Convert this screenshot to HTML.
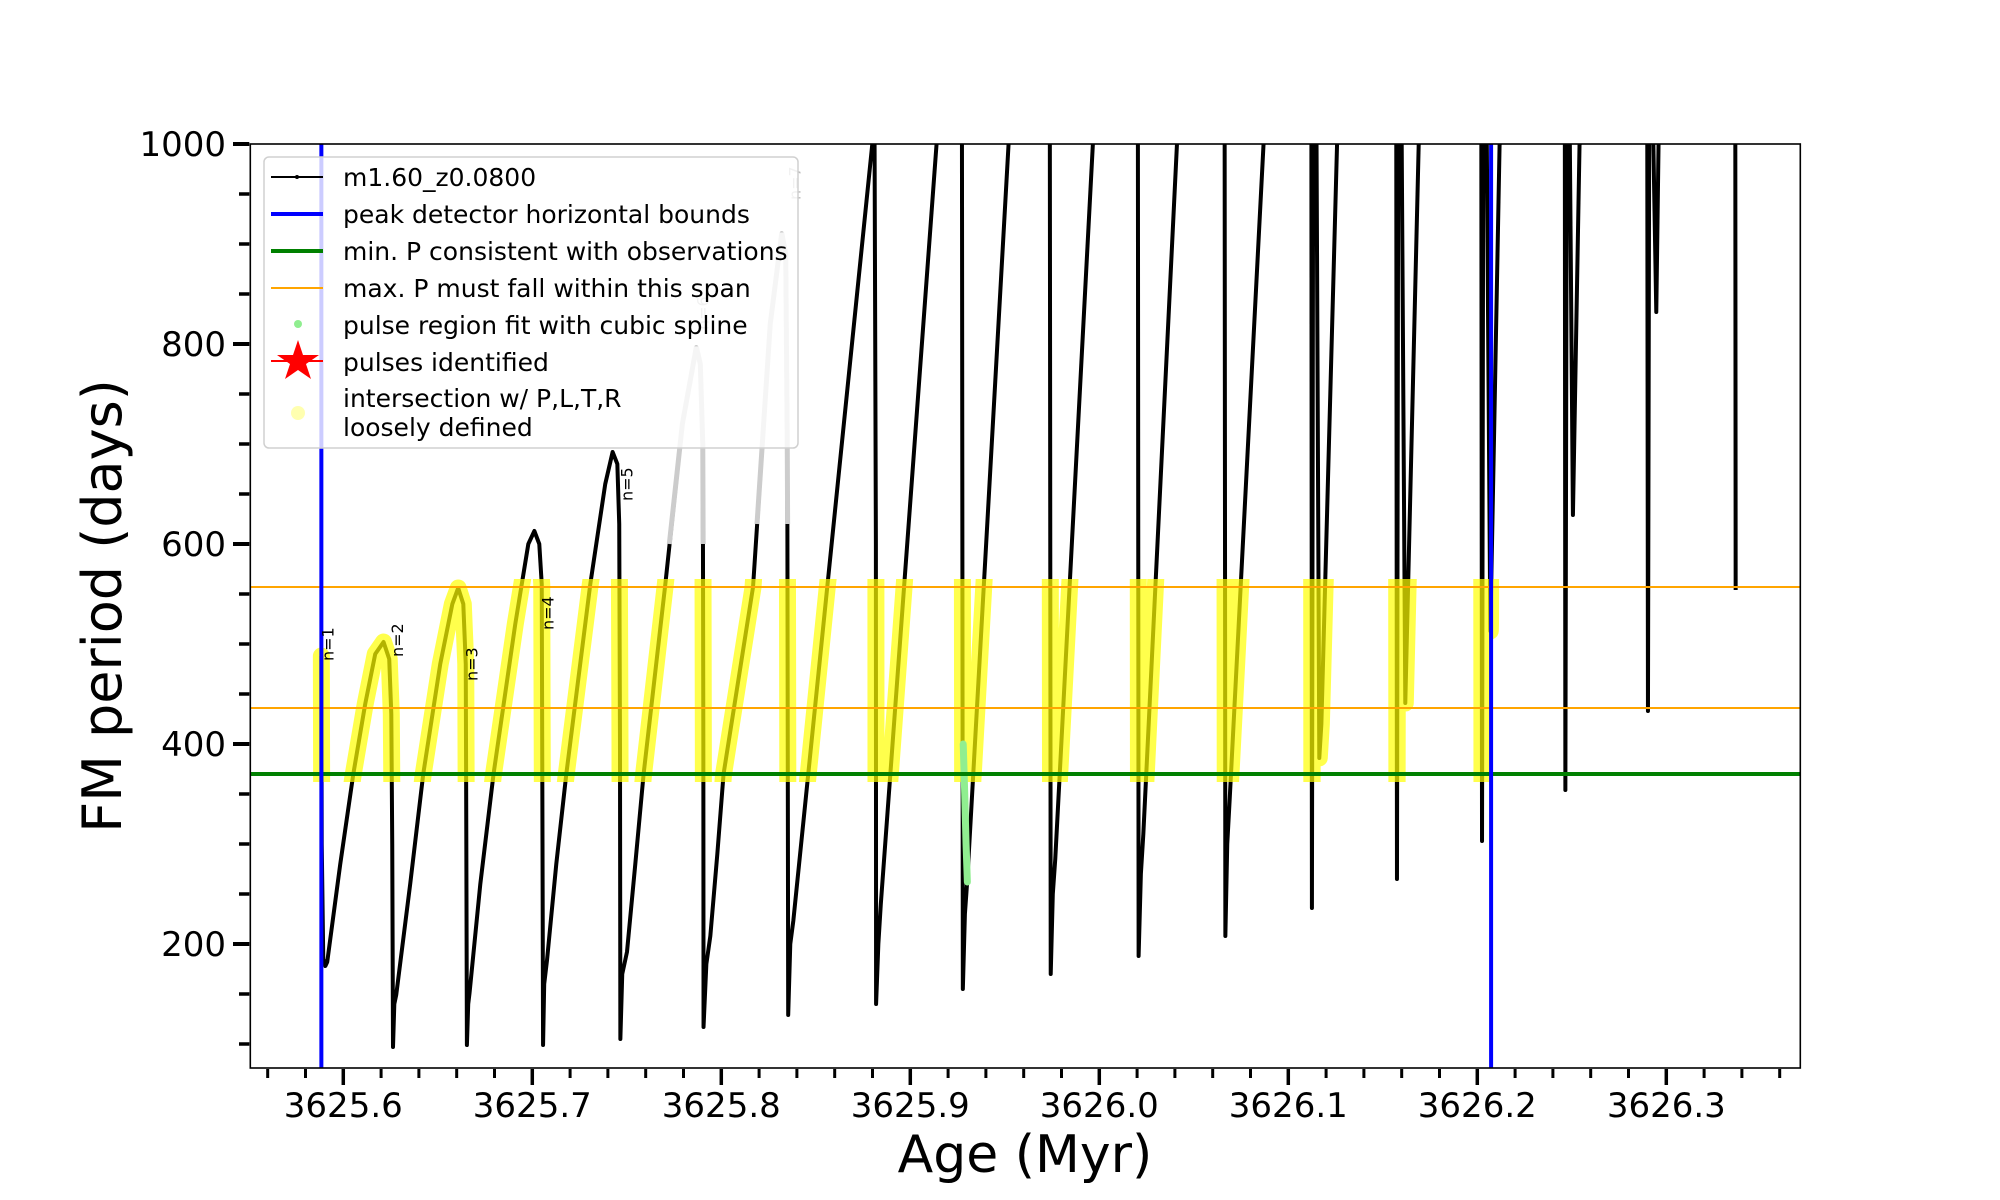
<!DOCTYPE html>
<html><head><meta charset="utf-8"><style>
html,body{margin:0;padding:0;background:#fff;}
svg{display:block;font-family:"DejaVu Sans","Liberation Sans",sans-serif;}
</style></head><body>
<svg id="chart" width="2000" height="1200" viewBox="0 0 2000 1200" xmlns="http://www.w3.org/2000/svg">
<defs>
<clipPath id="plotclip"><rect x="250.3" y="144" width="1550" height="924"/></clipPath>
<clipPath id="bandclip"><rect id="bandrect" x="0" y="0" width="0" height="0"/></clipPath>
</defs>
<rect x="0" y="0" width="2000" height="1200" fill="#fff"/>
<g id="plot" clip-path="url(#plotclip)"></g>
<rect x="250.3" y="144" width="1550" height="924" fill="none" stroke="#000" stroke-width="1.6"/>
<g id="axes"></g>
<text x="1025" y="1172" font-size="52" text-anchor="middle">Age (Myr)</text>
<text transform="translate(121,606) rotate(-90)" font-size="54" text-anchor="middle">FM period (days)</text>
<g id="legend">
<rect x="264" y="157" width="534" height="291" rx="5" fill="#fff" fill-opacity="0.8" stroke="#d0d0d0" stroke-width="1.5"/>
<g><line x1="271" y1="177" x2="323" y2="177" stroke="#000" stroke-width="2"/><circle cx="297" cy="177" r="2" fill="#000"/><text x="343" y="186" font-size="25">m1.60_z0.0800</text></g>
<g><line x1="271" y1="214" x2="323" y2="214" stroke="#0000ff" stroke-width="4"/><text x="343" y="223" font-size="25">peak detector horizontal bounds</text></g>
<g><line x1="271" y1="251" x2="323" y2="251" stroke="#008000" stroke-width="4"/><text x="343" y="260" font-size="25">min. P consistent with observations</text></g>
<g><line x1="271" y1="288" x2="323" y2="288" stroke="#ffa500" stroke-width="2"/><text x="343" y="297" font-size="25">max. P must fall within this span</text></g>
<g><circle cx="298" cy="324" r="4" fill="#90ee90"/><text x="343" y="334" font-size="25">pulse region fit with cubic spline</text></g>
<g><line x1="271" y1="361" x2="323" y2="361" stroke="#ff0000" stroke-width="2"/><polygon points="298,340 303,355 319,355 306,364 311,379 298,370 285,379 290,364 277,355 293,355" fill="#ff0000"/><text x="343" y="371" font-size="25">pulses identified</text></g>
<g><circle cx="298" cy="413" r="7" fill="#ffffb0"/><text x="343" y="407" font-size="25">intersection w/ P,L,T,R</text><text x="343" y="436" font-size="25">loosely defined</text></g>
</g>
</svg>
<script>
const curveAge=[3625.5884,3625.5886,3625.5894,3625.5905,3625.5915,3625.5984,3625.6053,3625.6116,3625.6169,3625.6213,3625.6243,3625.6254,3625.6259,3625.6263,3625.6270,3625.6280,3625.6354,3625.6423,3625.6513,3625.6577,3625.6608,3625.6635,3625.6648,3625.6651,3625.6654,3625.6661,3625.6668,3625.6725,3625.6795,3625.6910,3625.6979,3625.7011,3625.7037,3625.7050,3625.7054,3625.7057,3625.7063,3625.7078,3625.7127,3625.7180,3625.7307,3625.7386,3625.7425,3625.7450,3625.7460,3625.7464,3625.7466,3625.7476,3625.7501,3625.7545,3625.7589,3625.7704,3625.7794,3625.7868,3625.7889,3625.7902,3625.7905,3625.7906,3625.7921,3625.7942,3625.7979,3625.8012,3625.8168,3625.8259,3625.8320,3625.8341,3625.8349,3625.8354,3625.8365,3625.8381,3625.8799,3625.8810,3625.8818,3625.8819,3625.8831,3625.8844,3625.9139,3625.9153,3625.9273,3625.9278,3625.9289,3625.9302,3625.9520,3625.9534,3625.9738,3625.9743,3625.9754,3625.9767,3625.9966,3625.9979,3626.0204,3626.0208,3626.0220,3626.0233,3626.0411,3626.0423,3626.0663,3626.0667,3626.0677,3626.0690,3626.0869,3626.0878,3626.1122,3626.1125,3626.1132,3626.1148,3626.1164,3626.1175,3626.1258,3626.1571,3626.1575,3626.1582,3626.1598,3626.1619,3626.1690,3626.2021,3626.2025,3626.2032,3626.2048,3626.2069,3626.2118,3626.2463,3626.2466,3626.2474,3626.2487,3626.2506,3626.2541,3626.2899,3626.2903,3626.2910,3626.2926,3626.2947,3626.2959,3626.2968,3626.3365,3626.3367];
const curveP=[488,300,185,178,182,280,370,440,490,502,485,430,300,97,140,149,260,370,480,540,556,540,480,300,99,140,151,260,370,520,600,613,600,560,300,99,160,184,280,370,560,660,692,680,620,400,105,170,192,280,370,560,720,797,780,700,400,117,180,208,290,370,557,820,911,890,700,129,200,223,1000,1060,600,140,200,240,1000,1060,1060,155,230,265,1000,1060,1060,170,250,285,1000,1060,1060,188,270,310,1000,1060,1060,208,300,345,1000,1060,1060,236,1060,1060,386,420,1000,1060,265,1060,1060,441,1000,1060,303,1060,1060,513,1000,1060,354,1060,1060,629,1000,1060,433,1060,1060,832,1000,1060,1060,554];
const grayAgeA=[3625.7725,3625.7794,3625.7868,3625.7889,3625.7902,3625.7904];
const grayPA=[600,720,797,780,700,600];
const grayAgeB=[3625.8189,3625.8259,3625.8320,3625.8341,3625.8349,3625.8351];
const grayPB=[620,820,911,890,700,620];
const splineAge=[3625.9280,3625.9288,3625.9295,3625.9302];
const splineP=[400,350,300,262];
const minP=[370];
const maxPSpan=[436,557];
const boundAges=[3625.5884,3626.2073];
const nLabels=["n=1","n=2","n=3","n=4","n=5","n=6","n=7"];
const nLabelAge=[3625.5947,3625.6317,3625.6709,3625.7111,3625.7529,3625.7931,3625.8418];
const nLabelP=[483,487,463,514,643,814,944];
const xMajorTicks=[3625.6,3625.7,3625.8,3625.9,3626.0,3626.1,3626.2,3626.3];
const xTickLabels=["3625.6","3625.7","3625.8","3625.9","3626.0","3626.1","3626.2","3626.3"];
const yMajorTicks=[200,400,600,800,1000];
const yTickLabels=["200","400","600","800","1000"];

const NS="http://www.w3.org/2000/svg";
const L=250.3,R=1800.3,T=144,B=1068;
const xMin=3625.5508,xMax=3626.3709,yMin=76,yMax=1000;
function X(a){return L+(a-xMin)/(xMax-xMin)*(R-L);}
function Y(p){return B-(p-yMin)/(yMax-yMin)*(B-T);}
function mk(tag,attrs,parent){const e=document.createElementNS(NS,tag);for(const k in attrs)e.setAttribute(k,attrs[k]);parent.appendChild(e);return e;}
function pts(ax,py){return ax.map((a,i)=>X(a).toFixed(2)+","+Y(py[i]).toFixed(2)).join(" ");}
const plot=document.getElementById("plot");
const axes=document.getElementById("axes");

const curve=mk("polyline",{points:pts(curveAge,curveP),fill:"none",stroke:"#000","stroke-width":4,"stroke-linejoin":"round"},plot);


const g1=mk("polyline",{points:pts(grayAgeA,grayPA),fill:"none",stroke:"#cccccc","stroke-width":5},plot);


const g2=mk("polyline",{points:pts(grayAgeB,grayPB),fill:"none",stroke:"#cccccc","stroke-width":5},plot);


const br=document.getElementById("bandrect");
br.setAttribute("x",L);br.setAttribute("y",Y(maxPSpan[1])-8);
br.setAttribute("width",X(boundAges[1])-L+8);br.setAttribute("height",Y(minP[0])-Y(maxPSpan[1])+16);
const yl=mk("polyline",{points:pts(curveAge,curveP),fill:"none",stroke:"#ffff00","stroke-opacity":0.7,"stroke-width":17,"stroke-linejoin":"round","stroke-linecap":"round","clip-path":"url(#bandclip)"},plot);


const sp=mk("polyline",{points:pts(splineAge,splineP),fill:"none",stroke:"#90ee90","stroke-width":7,"stroke-linecap":"round"},plot);


const gl=mk("line",{x1:L,x2:R,y1:Y(minP[0]),y2:Y(minP[0]),stroke:"#008000","stroke-width":4},plot);


maxPSpan.forEach(p=>{
  const o=mk("line",{x1:L,x2:R,y1:Y(p),y2:Y(p),stroke:"#ffa500","stroke-width":2},plot);
  
  
});
boundAges.forEach(a=>{
  const v=mk("line",{x1:X(a),x2:X(a),y1:T,y2:B,stroke:"#0000ff","stroke-width":4},plot);
  
  
});
nLabels.forEach((s,i)=>{
  const x=X(nLabelAge[i]),y=Y(nLabelP[i]);
  const t=mk("text",{transform:"translate("+x+","+y+") rotate(-90)","font-size":16,fill:i>=5?"#bbbbbb":"#000"},plot);
  t.textContent=s;
  
  
});
for(let k=0;k<=40;k++){
  const a=3625.56+k*0.02;
  if(a>xMax)break;
  const major=xMajorTicks.some(m=>Math.abs(m-a)<1e-6);
  const x=X(a);
  const tk=mk("line",{x1:x,x2:x,y1:B+1,y2:major?B+17:B+10,stroke:"#000","stroke-width":major?3.5:3},axes);
  
  
}
xMajorTicks.forEach((a,i)=>{
  const t=mk("text",{x:X(a),y:1117,"font-size":34,"text-anchor":"middle"},axes);
  t.textContent=xTickLabels[i];
  
  
});
for(let p=100;p<=1000;p+=50){
  const major=yMajorTicks.indexOf(p)>=0;
  const y=Y(p);
  const tk=mk("line",{x1:major?233:239,x2:L-1,y1:y,y2:y,stroke:"#000","stroke-width":major?4:3.5},axes);
  
  
}
yMajorTicks.forEach((p,i)=>{
  const t=mk("text",{x:226,y:Y(p)+12,"font-size":34,"text-anchor":"end"},axes);
  t.textContent=yTickLabels[i];
  
  
});
</script>
</body></html>
